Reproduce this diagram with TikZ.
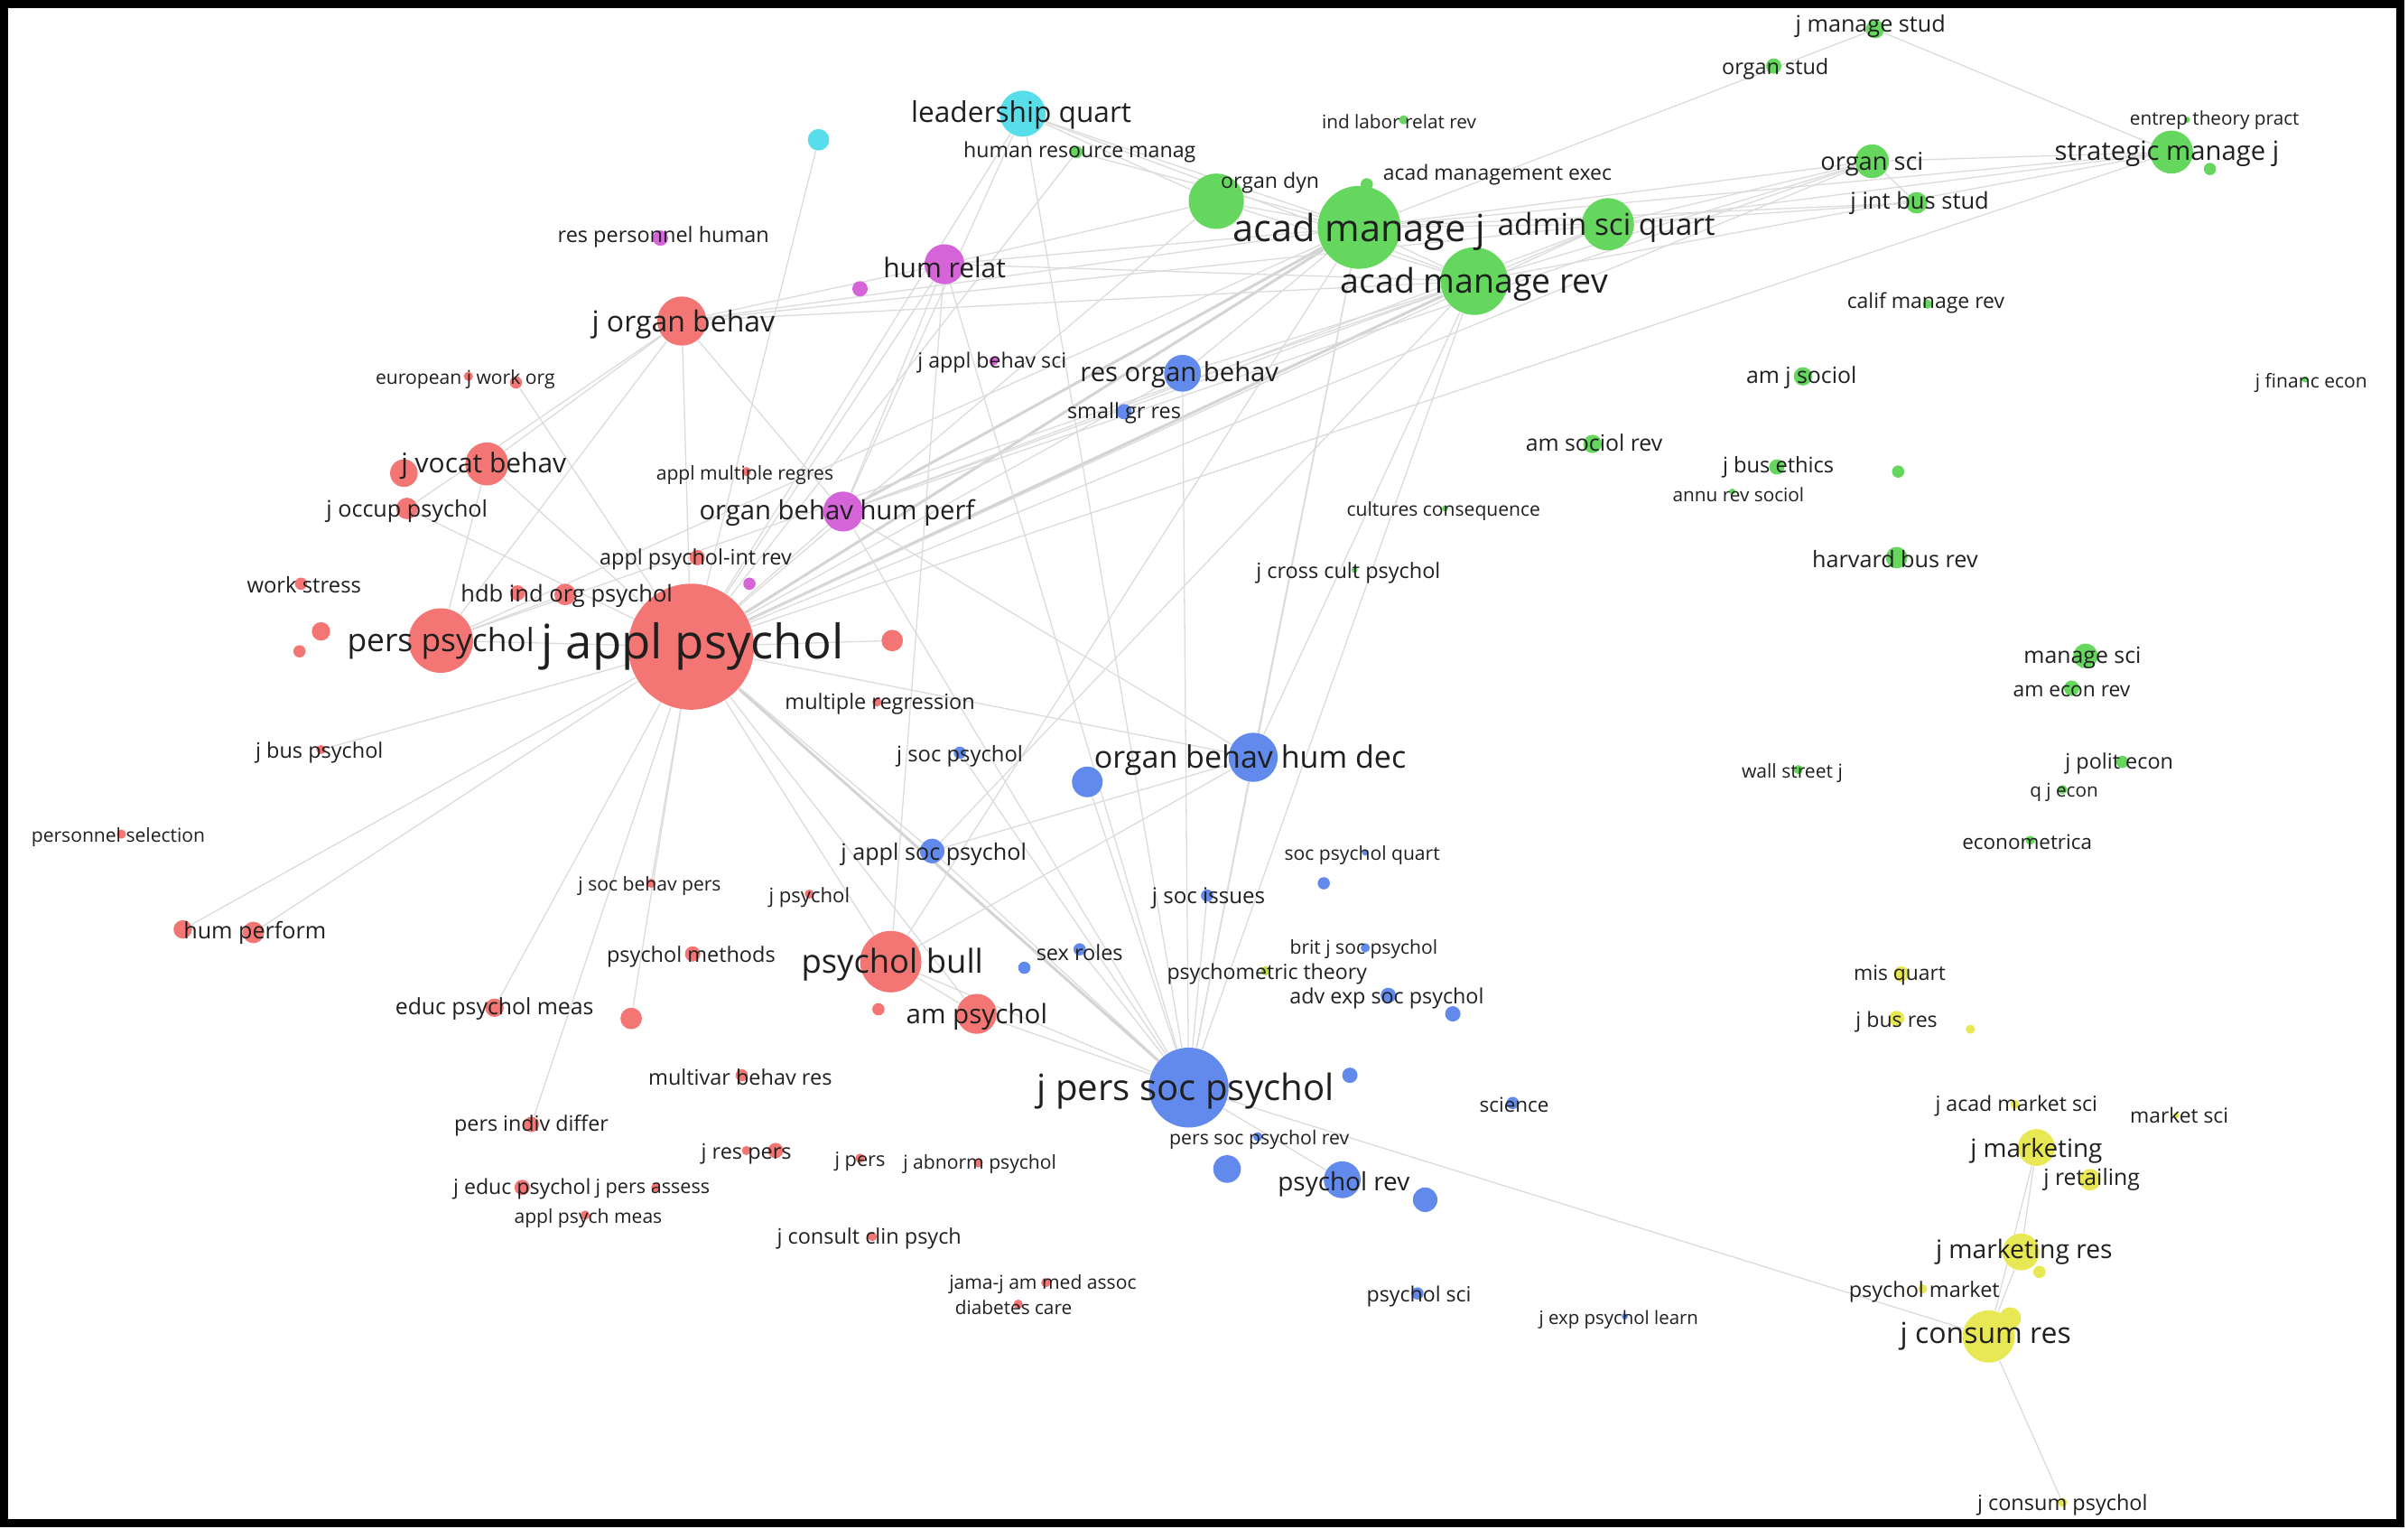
\documentclass[tikz,border=0pt]{standalone}
\usepackage{fontspec}
\setmainfont{Open Sans}
\usetikzlibrary{backgrounds}
\definecolor{cR}{RGB}{244,118,116}
\definecolor{cG}{RGB}{102,215,94}
\definecolor{cB}{RGB}{98,138,236}
\definecolor{cP}{RGB}{212,100,216}
\definecolor{cC}{RGB}{88,222,234}
\definecolor{cY}{RGB}{232,232,84}
\definecolor{cYG}{RGB}{190,220,80}
\tikzset{
  vdot/.style={circle,inner sep=0pt,draw=none},
  vlab/.style={inner sep=0pt,text=black!88,yshift=-1pt},
  vedge/.style={draw=black!14,line width=0.38pt},
  vthick/.style={draw=black!17,line width=0.9pt},
  frame/.style={draw=black,line width=2.5pt}
}
\newcommand\vn[5]{\node[vdot,minimum size=#4pt,fill=#5] (#1) at (#2,#3) {};}
\newcommand\vl[5]{\node[vlab,font=\fontsize{#4pt}{#4pt}\selectfont] (#1) at (#2,#3) {#5};}
\newcommand\ve[2]{\draw[vedge] (#1) -- (#2);}
\newcommand\vt[2]{\draw[vthick] (#1) -- (#2);}
\begin{document}
\begin{tikzpicture}[x=0.5pt,y=-0.5pt]
\useasboundingbox (0,0) rectangle (1568,995);
% ---------- red ----------
\vn{ja}{450}{421}{41}{cR}
\vn{pp}{287}{417}{21}{cR}
\vn{job}{444}{209}{16}{cR}
\vn{jvb}{317}{302}{14}{cR}
\vn{ua}{263}{308}{9}{cR}
\vn{jop}{265}{331}{7}{cR}
\vn{ws}{196}{380}{4}{cR}
\vn{ub}{209}{411}{6}{cR}
\vn{uc}{195}{424}{4}{cR}
\vn{hdba}{337}{386}{5}{cR}
\vn{hdb}{368}{387}{7}{cR}
\vn{apir}{454}{363}{5}{cR}
\vn{amr}{486}{307}{3}{cR}
\vn{ejw}{305}{245}{3}{cR}
\vn{ejwb}{336}{249}{4}{cR}
\vn{ud}{581}{417}{7}{cR}
\vn{mr}{571}{457}{3}{cR}
\vn{jbp}{209}{488}{3}{cR}
\vn{ps}{79}{543}{3}{cR}
\vn{hpa}{119}{605}{6}{cR}
\vn{hp}{165}{607}{7}{cR}
\vn{jsbp}{424}{575}{3}{cR}
\vn{jps}{527}{582}{3}{cR}
\vn{pm}{451}{621}{5}{cR}
\vn{pb}{580}{626}{20}{cR}
\vn{ue}{572}{657}{4}{cR}
\vn{amp}{636}{660}{13}{cR}
\vn{epm}{322}{656}{6}{cR}
\vn{uf}{411}{663}{7}{cR}
\vn{mbr}{483}{700}{4}{cR}
\vn{pid}{346}{732}{5}{cR}
\vn{jrpa}{486}{749}{3}{cR}
\vn{jrp}{505}{749}{5}{cR}
\vn{jpe}{560}{754}{3}{cR}
\vn{jabp}{637}{757}{3}{cR}
\vn{jep}{340}{773}{5}{cR}
\vn{jpa}{427}{773}{3}{cR}
\vn{apm}{381}{791}{3}{cR}
\vn{jcc}{568}{805}{3}{cR}
\vn{jama}{681}{835}{3}{cR}
\vn{dc}{663}{849}{3}{cR}
% ---------- purple / cyan ----------
\vn{hr}{615}{172}{13}{cP}
\vn{ug}{560}{188}{5}{cP}
\vn{rph}{430}{155}{5}{cP}
\vn{jabs}{647}{235}{3}{cP}
\vn{obhp}{549}{333}{13}{cP}
\vn{uh}{488}{380}{4}{cP}
\vn{lq}{666}{74}{15}{cC}
\vn{ui}{533}{91}{7}{cC}
% ---------- green ----------
\vn{amj}{885}{148}{27}{cG}
\vn{amrv}{960}{183}{22}{cG}
\vn{asq}{1047}{146}{17}{cG}
\vn{od}{792}{131}{18}{cG}
\vn{hrm}{701}{99}{4}{cG}
\vn{ilr}{914}{78}{3}{cG}
\vn{ame}{890}{120}{4}{cG}
\vn{os}{1219}{105}{11}{cG}
\vn{jibs}{1248}{132}{7}{cG}
\vn{smj}{1414}{99}{14}{cG}
\vn{uj}{1439}{110}{4}{cG}
\vn{etp}{1424}{78}{2}{cG}
\vn{jms}{1221}{19}{6}{cG}
\vn{ost}{1155}{43}{5}{cG}
\vn{cmr}{1255}{198}{3}{cG}
\vn{ajs}{1174}{245}{6}{cG}
\vn{asr}{1037}{289}{6}{cG}
\vn{jbe}{1157}{304}{5}{cG}
\vn{ars}{1128}{320}{2}{cG}
\vn{uk}{1236}{307}{4}{cG}
\vn{cc}{941}{331}{2}{cG}
\vn{jccp}{882}{371}{2}{cG}
\vn{hbr}{1235}{363}{7}{cG}
\vn{jfe}{1501}{247}{2}{cG}
\vn{ms}{1358}{427}{8}{cG}
\vn{aer}{1349}{448}{5}{cG}
\vn{jpol}{1382}{496}{4}{cG}
\vn{qje}{1343}{514}{3}{cG}
\vn{wsj}{1171}{501}{3}{cG}
\vn{ecm}{1322}{547}{3}{cG}
% ---------- blue ----------
\vn{rob}{770}{243}{12}{cB}
\vn{sgr}{732}{268}{5}{cB}
\vn{obhd}{816}{493}{16}{cB}
\vn{ul}{708}{509}{10}{cB}
\vn{jsp}{625}{490}{4}{cB}
\vn{jasp}{607}{554}{8}{cB}
\vn{jsi}{786}{583}{4}{cB}
\vn{spq}{889}{555}{2}{cB}
\vn{um}{862}{575}{4}{cB}
\vn{sr}{703}{618}{4}{cB}
\vn{un}{667}{630}{4}{cB}
\vn{bjsp}{889}{617}{3}{cB}
\vn{aesp}{904}{648}{5}{cB}
\vn{uo}{946}{660}{5}{cB}
\vn{jpsp}{774}{708}{26}{cB}
\vn{up}{879}{700}{5}{cB}
\vn{sci}{985}{718}{4}{cB}
\vn{pspr}{819}{740}{3}{cB}
\vn{uq}{799}{761}{9}{cB}
\vn{pr}{874}{768}{12}{cB}
\vn{ur}{928}{781}{8}{cB}
\vn{psci}{923}{842}{4}{cB}
\vn{jepl}{1058}{857}{2}{cB}
% ---------- yellow ----------
\vn{pt}{824}{632}{3}{cYG}
\vn{jm}{1326}{747}{12}{cY}
\vn{jams}{1312}{719}{3}{cY}
\vn{msci}{1417}{726}{2}{cY}
\vn{jret}{1361}{768}{7}{cY}
\vn{jmr}{1316}{815}{12}{cY}
\vn{us}{1328}{828}{4}{cY}
\vn{pmk}{1252}{839}{3}{cY}
\vn{jcr}{1295}{870}{17}{cY}
\vn{ut}{1309}{858}{7}{cY}
\vn{jcp}{1343}{978}{3}{cY}
\vn{misq}{1238}{634}{5}{cY}
\vn{jbr}{1235}{663}{5}{cY}
\vn{uu}{1283}{670}{3}{cY}
% ---------- links ----------
\begin{scope}[on background layer]
\vt{ja}{amj}\vt{ja}{amrv}\vt{ja}{jpsp}\vt{obhp}{amj}
\ve{ja}{asq}\ve{ja}{os}\ve{ja}{smj}\ve{ja}{od}\ve{ja}{rob}\ve{ja}{hr}
\ve{ja}{obhp}\ve{ja}{job}\ve{ja}{pp}\ve{ja}{jvb}\ve{ja}{jop}\ve{ja}{ui}
\ve{ja}{hpa}\ve{ja}{hp}\ve{ja}{epm}\ve{ja}{pid}\ve{ja}{uf}\ve{ja}{jsbp}
\ve{ja}{jasp}\ve{ja}{amp}\ve{ja}{pb}\ve{ja}{ud}\ve{ja}{jbp}\ve{ja}{obhd}
\ve{ja}{ejwb}\ve{ja}{hrm}\ve{ja}{lq}
\ve{obhp}{amrv}\ve{obhp}{asq}\ve{obhp}{os}\ve{obhp}{jpsp}\ve{obhp}{obhd}
\ve{pp}{amj}\ve{pp}{amrv}\ve{pp}{job}\ve{pp}{jvb}\ve{pp}{hdb}
\ve{job}{amj}\ve{job}{amrv}\ve{job}{asq}\ve{job}{jvb}\ve{job}{obhp}\ve{job}{hr}\ve{job}{jop}
\ve{hr}{amj}\ve{hr}{amrv}\ve{hr}{od}\ve{hr}{obhp}
\ve{lq}{amj}\ve{lq}{od}\ve{lq}{amrv}\ve{lq}{jpsp}\ve{lq}{obhp}
\ve{hrm}{amj}
\ve{rob}{amj}\ve{rob}{amrv}\ve{rob}{jpsp}
\ve{jpsp}{pb}\ve{jpsp}{amp}\ve{jpsp}{obhd}\ve{jpsp}{amj}\ve{jpsp}{amrv}
\ve{jpsp}{jasp}\ve{jpsp}{pr}\ve{jpsp}{jcr}\ve{jpsp}{jsp}\ve{jpsp}{sr}
\ve{jpsp}{jsi}\ve{jpsp}{ul}\ve{jpsp}{hr}
\ve{obhd}{amj}\ve{obhd}{amrv}\ve{obhd}{pb}\ve{obhd}{jasp}
\ve{pb}{amp}\ve{pb}{hr}\ve{pb}{amj}
\ve{amj}{amrv}\ve{amj}{asq}\ve{amj}{os}\ve{amj}{smj}\ve{amj}{od}\ve{amj}{jibs}\ve{amj}{jms}
\ve{amrv}{asq}\ve{amrv}{os}\ve{amrv}{smj}\ve{amrv}{od}
\ve{asq}{os}\ve{asq}{smj}\ve{asq}{jibs}
\ve{os}{smj}\ve{os}{jibs}\ve{jms}{smj}
\ve{jm}{jmr}\ve{jmr}{jcr}\ve{jm}{jcr}\ve{jcr}{jcp}
\ve{jasp}{amrv}
\end{scope}
% ---------- labels ----------
\vl{lja}{451}{419}{15.5}{j appl psychol}
\vl{lpp}{287}{417}{10.4}{pers psychol}
\vl{ljob}{445}{209}{9.4}{j organ behav}
\vl{ljvb}{315}{301}{8.8}{j vocat behav}
\vl{ljop}{265}{331}{7.4}{j occup psychol}
\vl{lws}{198}{379}{7}{work stress}
\vl{lhdb}{369}{386}{7.5}{hdb ind org psychol}
\vl{lapir}{453}{362}{6.9}{appl psychol-int rev}
\vl{lamr}{485}{307}{6.2}{appl multiple regres}
\vl{lejw}{303}{245}{6.2}{european j work org}
\vl{lmr}{573}{456}{6.9}{multiple regression}
\vl{ljbp}{208}{488}{6.9}{j bus psychol}
\vl{lps}{77}{543}{6.2}{personnel selection}
\vl{lhp}{166}{605}{7.4}{hum perform}
\vl{ljsbp}{423}{575}{6.2}{j soc behav pers}
\vl{ljps}{527}{582}{6.5}{j psychol}
\vl{lpm}{450}{621}{6.9}{psychol methods}
\vl{lpb}{581}{626}{10.7}{psychol bull}
\vl{lamp}{636}{660}{8.7}{am psychol}
\vl{lepm}{322}{655}{7.3}{educ psychol meas}
\vl{lmbr}{482}{699}{6.9}{multivar behav res}
\vl{lpid}{346}{731}{6.85}{pers indiv differ}
\vl{ljrp}{486}{749}{6.9}{j res pers}
\vl{ljpe}{560}{754}{6.4}{j pers}
\vl{ljabp}{638}{756}{6.2}{j abnorm psychol}
\vl{ljep}{340}{772}{6.8}{j educ psychol}
\vl{ljpa}{425}{772}{6.35}{j pers assess}
\vl{lapm}{383}{791}{6.2}{appl psych meas}
\vl{ljcc}{566}{804}{6.9}{j consult clin psych}
\vl{ljama}{679}{834}{6.2}{jama-j am med assoc}
\vl{ldc}{660}{849}{6.1}{diabetes care}
\vl{lhr}{615}{172}{8.8}{hum relat}
\vl{lrph}{432}{152}{6.9}{res personnel human}
\vl{ljabs}{646}{234}{6.8}{j appl behav sci}
\vl{lobhp}{545}{332}{8.6}{organ behav hum perf}
\vl{llq}{665}{73}{9.3}{leadership quart}
\vl{lamj}{885}{149}{12.2}{acad manage j}
\vl{lamrv}{960}{183}{11}{acad manage rev}
\vl{lasq}{1046}{146}{9.8}{admin sci quart}
\vl{lod}{827}{117}{6.8}{organ dyn}
\vl{lhrm}{703}{97}{6.8}{human resource manag}
\vl{lilr}{911}{77}{6.1}{ind labor relat rev}
\vl{lame}{975}{112}{6.75}{acad management exec}
\vl{los}{1219}{105}{8}{organ sci}
\vl{ljibs}{1250}{130}{7.5}{j int bus stud}
\vl{lsmj}{1411}{98}{8.6}{strategic manage j}
\vl{letp}{1442}{76}{6.1}{entrep theory pract}
\vl{ljms}{1218}{15}{7.4}{j manage stud}
\vl{lost}{1156}{43}{6.9}{organ stud}
\vl{lcmr}{1254}{195}{6.75}{calif manage rev}
\vl{lajs}{1173}{244}{7.3}{am j sociol}
\vl{lasr}{1038}{286}{7.3}{am sociol rev}
\vl{ljbe}{1158}{302}{6.95}{j bus ethics}
\vl{lars}{1132}{320}{6.1}{annu rev sociol}
\vl{lcc}{940}{331}{6.2}{cultures consequence}
\vl{ljccp}{878}{371}{6.9}{j cross cult psychol}
\vl{lhbr}{1234}{362}{7.4}{harvard bus rev}
\vl{ljfe}{1505}{247}{6.2}{j financ econ}
\vl{lms}{1356}{426}{7.3}{manage sci}
\vl{laer}{1349}{448}{6.7}{am econ rev}
\vl{ljpol}{1380}{495}{6.9}{j polit econ}
\vl{lqje}{1344}{514}{6.1}{q j econ}
\vl{lwsj}{1167}{501}{6.2}{wall street j}
\vl{lecm}{1320}{546}{6.6}{econometrica}
\vl{lrob}{768}{242}{8.6}{res organ behav}
\vl{lsgr}{732}{267}{6.9}{small gr res}
\vl{lobhd}{814}{493}{10}{organ behav hum dec}
\vl{ljsp}{625}{490}{7}{j soc psychol}
\vl{ljasp}{608}{554}{7.4}{j appl soc psychol}
\vl{ljsi}{787}{583}{7.1}{j soc issues}
\vl{lspq}{887}{555}{6.2}{soc psychol quart}
\vl{lsr}{703}{618}{6.9}{sex roles}
\vl{lbjsp}{888}{616}{6.2}{brit j soc psychol}
\vl{lpt}{825}{632}{6.8}{psychometric theory}
\vl{laesp}{903}{648}{6.85}{adv exp soc psychol}
\vl{ljpsp}{772}{708}{11.8}{j pers soc psychol}
\vl{lsci}{986}{717}{6.6}{science}
\vl{lpspr}{820}{740}{6.25}{pers soc psychol rev}
\vl{lpr}{875}{769}{8.2}{psychol rev}
\vl{lpsci}{924}{842}{6.8}{psychol sci}
\vl{ljepl}{1054}{857}{6.0}{j exp psychol learn}
\vl{ljm}{1326}{747}{8.2}{j marketing}
\vl{ljams}{1313}{718}{6.8}{j acad market sci}
\vl{lmsci}{1419}{724}{6.7}{market sci}
\vl{ljret}{1362}{766}{7.3}{j retailing}
\vl{ljmr}{1318}{813}{8.3}{j marketing res}
\vl{lpmk}{1253}{839}{6.9}{psychol market}
\vl{ljcr}{1293}{868}{9.4}{j consum res}
\vl{ljcp}{1343}{978}{6.9}{j consum psychol}
\vl{lmisq}{1237}{633}{6.7}{mis quart}
\vl{ljbr}{1235}{663}{6.8}{j bus res}
% ---------- frame ----------
\draw[frame] (2.5,2.5) rectangle (1563,991.5);
\end{tikzpicture}
\end{document}
